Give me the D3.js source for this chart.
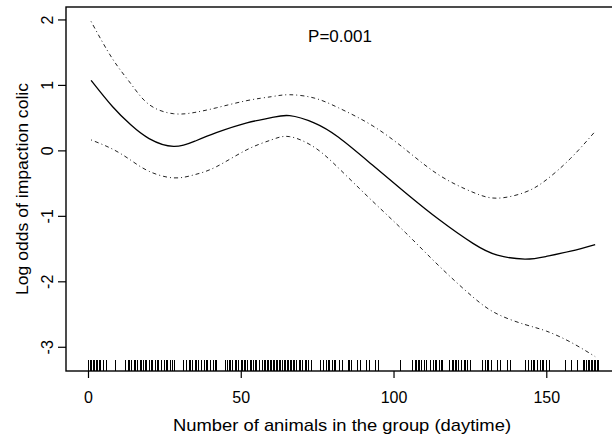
<!DOCTYPE html>
<html><head><meta charset="utf-8">
<script src="https://cdn.jsdelivr.net/npm/d3@7"></script>
<style>
body{margin:0;background:#fff;}
svg{display:block;font-family:"Liberation Sans",Arial,Helvetica,sans-serif;}
</style></head>
<body>
<svg id="c" width="612" height="439"></svg>
<script>
// x values (number of animals) at which the smooth is read
const xs = [1, 8, 14, 20, 28, 35, 42, 52, 60, 66, 74, 82, 93, 104, 115, 126, 134, 143, 150, 158, 166];
// fitted log odds
const fit = [1.07, 0.67, 0.39, 0.18, 0.06, 0.14, 0.27, 0.42, 0.50, 0.53, 0.42, 0.20, -0.22, -0.65, -1.06, -1.42, -1.60, -1.66, -1.62, -1.54, -1.44];
// upper confidence band
const upper = [1.97, 1.40, 1.02, 0.70, 0.56, 0.58, 0.65, 0.76, 0.82, 0.85, 0.80, 0.65, 0.38, 0.01, -0.38, -0.64, -0.73, -0.64, -0.45, -0.12, 0.29];
// lower confidence band
const lower = [0.16, 0.02, -0.15, -0.32, -0.42, -0.37, -0.25, 0.01, 0.16, 0.21, 0.05, -0.27, -0.77, -1.26, -1.77, -2.24, -2.50, -2.66, -2.76, -2.93, -3.15];
// rug: observed group sizes
const rugValues = [0,0.5,1,2,2.5,3,4,5,6,9,12,13,14,15,16,17,17.5,18,19,20,21,22,23,24,25,26,27,28,31,32,33,34,35,36,37,38,39,40,41,42,45,46,47,48,49,50,51,52,53,54,55,57,58,59,60,61,62,63,64,65,66,67,68,69,70,71,72,73,76,77,78,79,80,81,82,83,85,86,88,89,91,92,94,95,102,106,107,108,109,110,112,113,114,115,116,118,119,120,121,122,123,124,125,129,130,131,132,134,135,137,138,143,144,145,146,147,148,149,150,151,156,158,160,162,163,164,165,166,167,
  46.5,50.5,53.5,56,58.5,60.5,61.5,62.5,64.5,66.5,107.5,113.5,120.5,163.5,165.5,
  1.5,3.5,13.5,15.5,18.5,20.5,22.5,25.5,27.5,33.5,35.5,38.5,41.5,45.5,48.5,51.5,54.5,57.5,59.5,63.5,65.5,67.5,69.5,71.5,78.5,80.5,85.5,108.5,110.5,115.5,119.5,123.5,130.5,145.5,148.5,162.5,164.5,166.5];
const xTicks = [0, 50, 100, 150];
const yTicks = [-3, -2, -1, 0, 1, 2];
const xTitle = "Number of animals in the group (daytime)";
const yTitle = "Log odds of impaction colic";
const pText = "P=0.001";

const svg = d3.select("#c");
const L = 66, R = 619, T = 7, B = 371;
const x = d3.scaleLinear().domain([-7.2, 173.8]).range([L, R]);
const y = d3.scaleLinear().domain([-3.37, 2.19]).range([B, T]);
const fmt = d => String(d);

// curves
const line = arr => d3.line().x((d,i)=>x(xs[i])).y(d=>y(d)).curve(d3.curveNatural)(arr);
svg.append("path").attr("d", line(fit)).attr("fill","none").attr("stroke","#000").attr("stroke-width",1.3);
[upper, lower].forEach(a => {
  svg.append("path").attr("d", line(a)).attr("fill","none").attr("stroke","#222")
    .attr("stroke-width",1).attr("stroke-dasharray","1,3,4,3");
});

// rug
svg.append("g").attr("shape-rendering","crispEdges").selectAll("line").data(rugValues).join("line")
  .attr("x1", d=>Math.round(x(d))+0.5).attr("x2", d=>Math.round(x(d))+0.5)
  .attr("y1", B).attr("y2", B-11)
  .attr("stroke","#000").attr("stroke-width",1);

// box
svg.append("rect").attr("x",L).attr("y",T).attr("width",R-L).attr("height",B-T)
  .attr("fill","none").attr("stroke","#000").attr("stroke-width",1.4);

// x axis
const gx = svg.append("g").attr("transform",`translate(0,${B})`)
  .call(d3.axisBottom(x).tickValues(xTicks).tickSize(7).tickPadding(13.5).tickFormat(fmt));
gx.select(".domain").remove();
gx.selectAll("line").attr("stroke","#000").attr("stroke-width",1.2);
gx.selectAll("text").attr("font-size",16).attr("fill","#000").attr("font-family","Liberation Sans, Arial, sans-serif");

// y axis
const gy = svg.append("g").attr("transform",`translate(${L},0)`)
  .call(d3.axisLeft(y).tickValues(yTicks).tickSize(8).tickFormat(fmt));
gy.select(".domain").remove();
gy.selectAll("line").attr("stroke","#000").attr("stroke-width",1.2);
gy.selectAll("text")
  .attr("x", null).attr("dy", null)
  .attr("text-anchor","middle")
  .attr("transform","translate(-13,0) rotate(-90)")
  .attr("font-size",16).attr("fill","#000").attr("font-family","Liberation Sans, Arial, sans-serif");

// titles
svg.append("text").attr("x",342).attr("y",431).attr("text-anchor","middle")
  .attr("font-size",17).attr("textLength",338).attr("lengthAdjust","spacingAndGlyphs").text(xTitle);
svg.append("text").attr("transform",`translate(28,189) rotate(-90)`).attr("text-anchor","middle")
  .attr("font-size",17).attr("textLength",212).attr("lengthAdjust","spacingAndGlyphs").text(yTitle);
svg.append("text").attr("x",340).attr("y",42).attr("text-anchor","middle")
  .attr("font-size",17).text(pText);
</script>
</body></html>
